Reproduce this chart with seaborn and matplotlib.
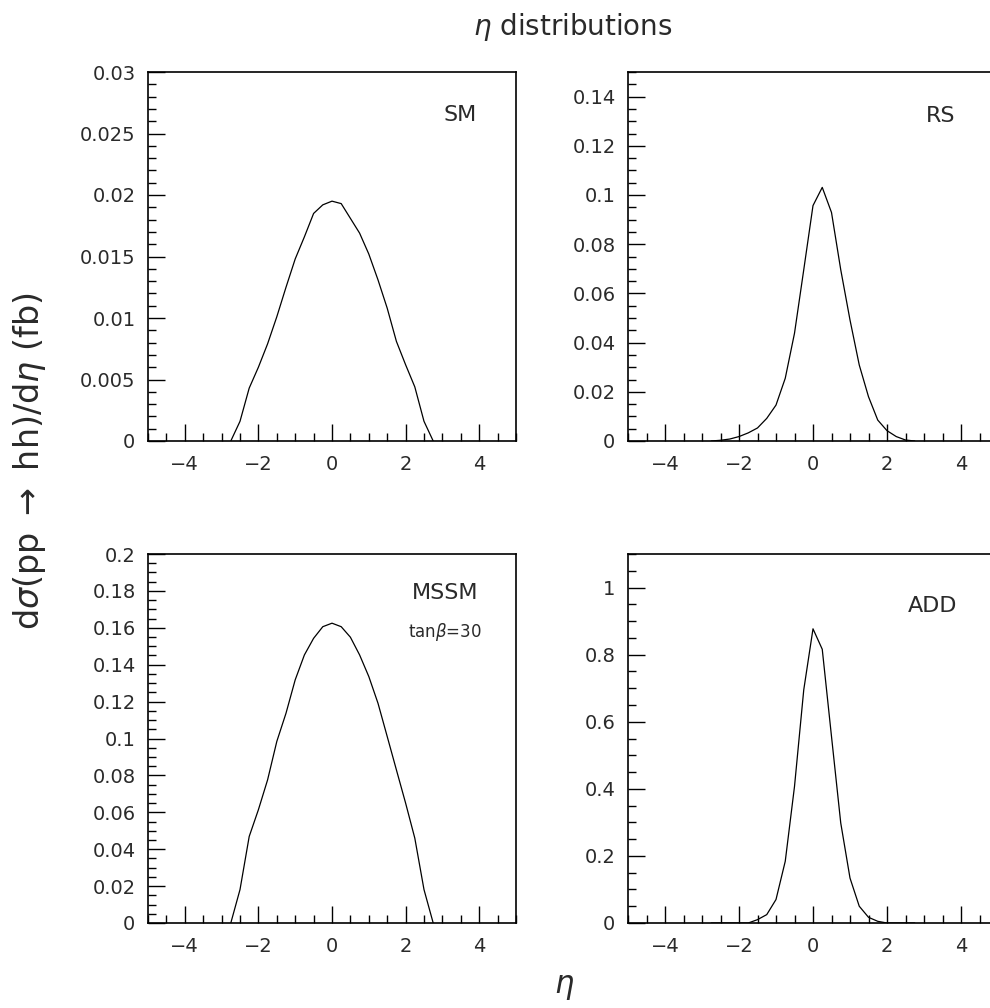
import numpy as np
import pandas as pd
import matplotlib
matplotlib.use("Agg")
import matplotlib.pyplot as plt
from matplotlib.ticker import MultipleLocator, FuncFormatter
import seaborn as sns

# --- data ---
ETA = [-2.75, -2.5, -2.25, -2.0, -1.75, -1.5, -1.25, -1.0, -0.75, -0.5, -0.25, 0.0,
       0.25, 0.5, 0.75, 1.0, 1.25, 1.5, 1.75, 2.0, 2.25, 2.5, 2.75]

SM = [0.0, 0.0016, 0.0043, 0.0060, 0.0079, 0.0101, 0.0125, 0.0148, 0.0166, 0.0185, 0.0192, 0.0195,
      0.0193, 0.0181, 0.0169, 0.0152, 0.0131, 0.0108, 0.0081, 0.0062, 0.0044, 0.0016, 0.0]

RS = [0.0, 0.0003, 0.0008, 0.0018, 0.0033, 0.0053, 0.0092, 0.0146, 0.0255, 0.0438, 0.0696, 0.0957,
      0.1031, 0.0929, 0.0696, 0.0492, 0.0309, 0.0180, 0.0085, 0.0042, 0.0018, 0.0004, 0.0]

MSSM = [0.0, 0.0181, 0.0469, 0.0614, 0.0776, 0.0984, 0.1137, 0.1318, 0.1453, 0.1543, 0.1606, 0.1625,
        0.1606, 0.1549, 0.1453, 0.1336, 0.1191, 0.1011, 0.0830, 0.0650, 0.0460, 0.0181, 0.0]

ADD = [0.0, 0.0, 0.0, 0.0, 0.0, 0.010, 0.025, 0.070, 0.184, 0.407, 0.695, 0.877,
       0.816, 0.556, 0.298, 0.134, 0.050, 0.017, 0.005, 0.0, 0.0, 0.0, 0.0]

# panel settings: name, values, ymax, major, minor, label position (axes fraction)
PANELS = [
    ("SM", SM, 0.03, 0.005, 0.001, (0.848, 0.883)),
    ("RS", RS, 0.15, 0.02, 0.005, (0.846, 0.881)),
    ("MSSM", MSSM, 0.2, 0.02, 0.005, (0.807, 0.893)),
    ("ADD", ADD, 1.1, 0.2, 0.05, (0.824, 0.859)),
]

sns.set_style("ticks")
plt.rcParams["font.family"] = ["DejaVu Sans"]
plt.rcParams["mathtext.fontset"] = "dejavusans"
TXT = "#2a2a2a"

W, H = 990, 1008
fig = plt.figure(figsize=(W / 100, H / 100), dpi=100)

# axes boxes in pixels: left, top, right, bottom
boxes = [(148, 72, 516, 441), (628, 72, 998, 441),
         (148, 554, 516, 923), (628, 554, 998, 923)]

fmt = FuncFormatter(lambda v, p: f"{v:g}")

for (name, vals, ymax, major, minor, pos), (l, t, r, b) in zip(PANELS, boxes):
    ax = fig.add_axes([l / W, 1 - b / H, (r - l) / W, (b - t) / H])
    df = pd.DataFrame({"eta": ETA, "val": vals})
    sns.lineplot(data=df, x="eta", y="val", ax=ax, color="black", linewidth=0.9)
    ax.set_xlim(-5, 5)
    ax.set_ylim(0, ymax)
    ax.xaxis.set_major_locator(MultipleLocator(2))
    ax.xaxis.set_minor_locator(MultipleLocator(0.5))
    ax.yaxis.set_major_locator(MultipleLocator(major))
    ax.yaxis.set_minor_locator(MultipleLocator(minor))
    ax.yaxis.set_major_formatter(fmt)
    ax.tick_params(which="both", direction="in", top=False, right=False,
                   colors="black", labelcolor=TXT, labelsize=14, width=1.0)
    ax.tick_params(which="major", length=12, pad=9)
    ax.tick_params(which="minor", length=6)
    ax.tick_params(axis="x", which="major", pad=10)
    for sp in ax.spines.values():
        sp.set_linewidth(1.2)
        sp.set_color("black")
    ax.set_xlabel("")
    ax.set_ylabel("")
    ax.text(pos[0], pos[1], name, transform=ax.transAxes, ha="center",
            va="center", fontsize=16, color=TXT)
    if name == "MSSM":
        ax.text(0.807, 0.789, r"tan$\beta$=30", transform=ax.transAxes,
                ha="center", va="center", fontsize=12, color=TXT)

fig.text(573 / W, 1 - 27 / H, r"$\eta$ distributions", ha="center",
         va="center", fontsize=20, color=TXT)
fig.text(564 / W, 1 - 988 / H, r"$\eta$", ha="center", va="center",
         fontsize=22, color=TXT)
fig.text(30 / W, 1 - 461 / H, r"d$\sigma$(pp $\rightarrow$ hh)/d$\eta$ (fb)",
         ha="center", va="center", rotation=90, fontsize=24, color=TXT)

fig.savefig("out.png", dpi=100)
